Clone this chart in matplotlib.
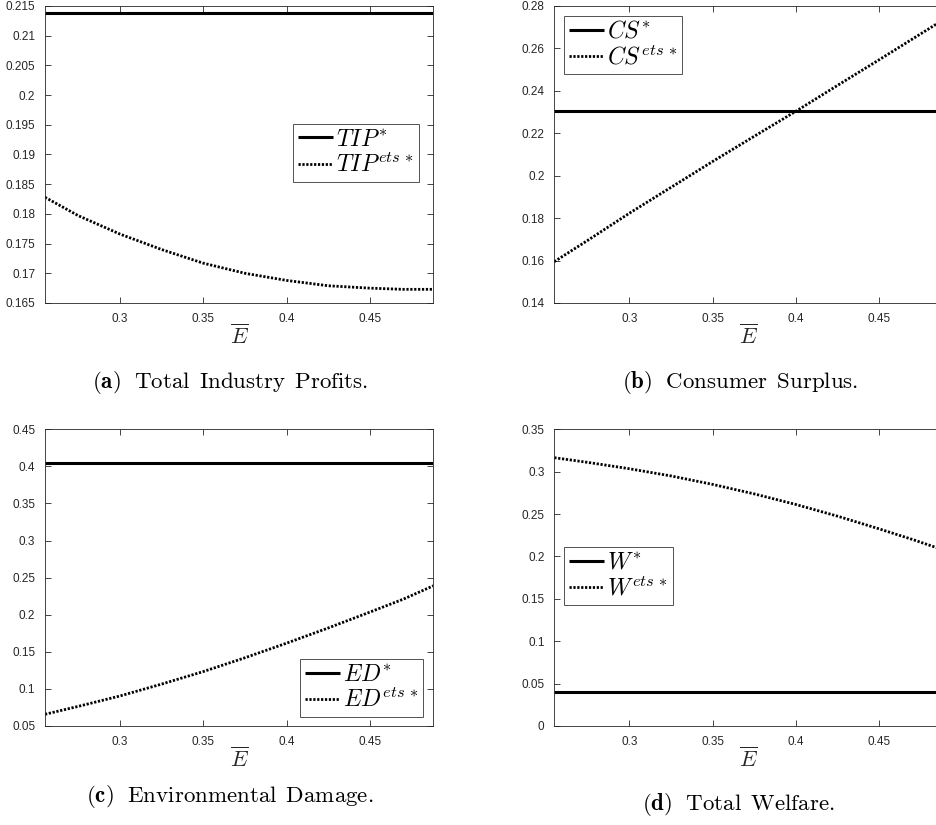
import matplotlib
matplotlib.use("Agg")
import matplotlib.pyplot as plt
from matplotlib.ticker import FixedLocator

plt.rcParams['mathtext.fontset'] = 'cm'
plt.rcParams['font.family'] = ['Liberation Sans', 'DejaVu Sans']

# ---------------- data ----------------
xlim = (0.255, 0.488)
x_pts = [0.255, 0.275, 0.3, 0.325, 0.35, 0.375, 0.4, 0.425, 0.45, 0.47, 0.488]

tip_star = 0.2139
tip_ets = [0.1828, 0.1797, 0.1766, 0.1740, 0.1717, 0.1700, 0.1688, 0.1679, 0.1675, 0.1673, 0.1673]

cs_star = 0.2303
cs_ets = [0.1595, 0.1695, 0.1823, 0.1945, 0.2067, 0.2186, 0.2304, 0.2426, 0.2547, 0.2645, 0.2733]

ed_star = 0.405
ed_ets = [0.0658, 0.0765, 0.0905, 0.1065, 0.1234, 0.1420, 0.1617, 0.1822, 0.2036, 0.2210, 0.2390]

w_star = 0.0398
w_ets = [0.3165, 0.3110, 0.3035, 0.2950, 0.2850, 0.2738, 0.2613, 0.2475, 0.2325, 0.2200, 0.2080]

xticks = [0.3, 0.35, 0.4, 0.45]
xticklabels = ['0.3', '0.35', '0.4', '0.45']

yticks_a = [0.165, 0.17, 0.175, 0.18, 0.185, 0.19, 0.195, 0.2, 0.205, 0.21, 0.215]
yticklabels_a = ['0.165', '0.17', '0.175', '0.18', '0.185', '0.19', '0.195', '0.2', '0.205', '0.21', '0.215']
yticks_b = [0.14, 0.16, 0.18, 0.2, 0.22, 0.24, 0.26, 0.28]
yticklabels_b = ['0.14', '0.16', '0.18', '0.2', '0.22', '0.24', '0.26', '0.28']
yticks_c = [0.05, 0.1, 0.15, 0.2, 0.25, 0.3, 0.35, 0.4, 0.45]
yticklabels_c = ['0.05', '0.1', '0.15', '0.2', '0.25', '0.3', '0.35', '0.4', '0.45']
yticks_d = [0, 0.05, 0.1, 0.15, 0.2, 0.25, 0.3, 0.35]
yticklabels_d = ['0', '0.05', '0.1', '0.15', '0.2', '0.25', '0.3', '0.35']

labels_a = [r'$TIP^{*}$', r'$TIP^{ets\,*}$']
labels_b = [r'$CS^{*}$', r'$CS^{ets\,*}$']
labels_c = [r'$ED^{*}$', r'$ED^{ets\,*}$']
labels_d = [r'$W^{*}$', r'$W^{ets\,*}$']

captions = [r'$\mathbf{(a)}\ \ \mathrm{Total\ \,Industry\ \,Profits.}$',
            r'$\mathbf{(b)}\ \ \mathrm{Consumer\ \,Surplus.}$',
            r'$\mathbf{(c)}\ \ \mathrm{Environmental\ \,Damage.}$',
            r'$\mathbf{(d)}\ \ \mathrm{Total\ \,Welfare.}$']

# ---------------- layout ----------------
W, H = 937, 825
fig = plt.figure(figsize=(W / 100, H / 100), dpi=100)

def ax_at(left, top, right, bottom):
    return fig.add_axes([left / W, 1 - bottom / H, (right - left) / W, (bottom - top) / H])

ax_a = ax_at(45, 6, 433.3, 303)
ax_b = ax_at(554.3, 6, 942.6, 303)
ax_c = ax_at(45, 429.3, 433.3, 726)
ax_d = ax_at(554.3, 429.3, 942.6, 726)

gray = '#262626'

panels = [
    (ax_a, tip_star, tip_ets, yticks_a, yticklabels_a, labels_a,
     dict(loc='upper left', bbox_to_anchor=(0.639, 0.603))),
    (ax_b, cs_star, cs_ets, yticks_b, yticklabels_b, labels_b,
     dict(loc='upper left', bbox_to_anchor=(0.025, 0.966))),
    (ax_c, ed_star, ed_ets, yticks_c, yticklabels_c, labels_c,
     dict(loc='lower right', bbox_to_anchor=(0.974, 0.030))),
    (ax_d, w_star, w_ets, yticks_d, yticklabels_d, labels_d,
     dict(loc='upper left', bbox_to_anchor=(0.025, 0.603))),
]

for ax, star, ets, yt, ytl, labs, legkw in panels:
    ax.plot(xlim, [star, star], color='black', lw=2.2, solid_capstyle='butt', label=labs[0])
    ax.plot(x_pts, ets, color='black', lw=2.0, linestyle=(0, (0.8, 0.6)), label=labs[1])
    ax.set_xlim(*xlim)
    ax.set_ylim(yt[0], yt[-1])
    ax.xaxis.set_major_locator(FixedLocator(xticks))
    ax.set_xticklabels(xticklabels)
    ax.yaxis.set_major_locator(FixedLocator(yt))
    ax.set_yticklabels(ytl)
    ax.tick_params(direction='in', length=4, width=0.6, colors=gray, labelsize=8.5,
                   top=True, right=True, pad=7)
    for sp in ax.spines.values():
        sp.set_color(gray)
        sp.set_linewidth(0.6)
    ax.set_xlabel(r'$\overline{E}$', fontsize=16, color=gray, labelpad=0)
    leg = ax.legend(fontsize=17, frameon=True, fancybox=False, borderaxespad=0,
                    handlelength=1.5, handletextpad=0.12, labelspacing=0.1,
                    borderpad=0.2, **legkw)
    leg.get_frame().set_edgecolor(gray)
    leg.get_frame().set_linewidth(0.7)

fig.text(230 / W, 1 - 383 / H, captions[0], ha='center', va='center', fontsize=16.5)
fig.text(740 / W, 1 - 383 / H, captions[1], ha='center', va='center', fontsize=16.5)
fig.text(230 / W, 1 - 797 / H, captions[2], ha='center', va='center', fontsize=16.5)
fig.text(738 / W, 1 - 805 / H, captions[3], ha='center', va='center', fontsize=16.5)

fig.savefig('out.png', dpi=100)
